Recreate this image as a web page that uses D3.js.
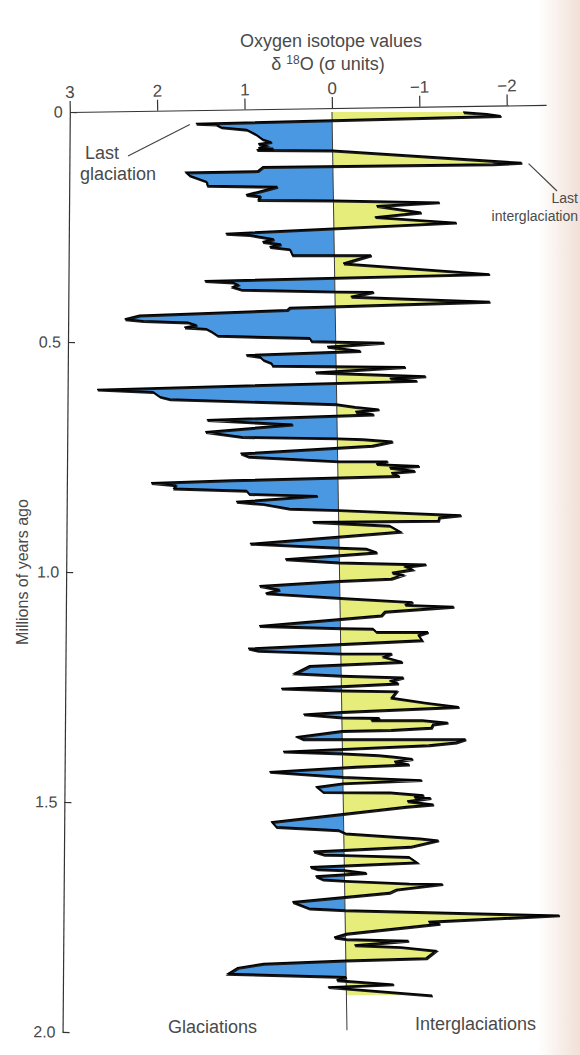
<!DOCTYPE html>
<html><head><meta charset="utf-8">
<script src="https://cdn.jsdelivr.net/npm/d3@7"></script>
<style>
body{margin:0;background:#fff;}
svg{display:block;font-family:"Liberation Sans",Arial,Helvetica,sans-serif;}
</style></head>
<body>
<svg id="chart" width="580" height="1055"></svg>
<script>
// ---- data (millions of years ago, delta-18O in sigma units; positive = glacial) ----
const ages = [0.000,0.004,0.008,0.025,0.027,0.033,0.038,0.049,0.059,0.065,0.069,0.073,0.078,0.079,0.082,0.083,
0.110,0.113,0.119,0.128,0.131,0.138,0.151,0.160,0.162,0.180,0.183,0.191,0.192,0.196,0.204,0.218,0.228,0.240,
0.264,0.267,0.276,0.282,0.287,0.293,0.298,0.311,0.311,0.329,0.352,0.367,0.370,0.375,0.380,0.386,0.390,0.391,
0.401,0.412,0.425,0.430,0.442,0.450,0.454,0.457,0.463,0.468,0.471,0.477,0.486,0.491,0.498,0.499,0.501,0.510,
0.519,0.528,0.532,0.539,0.546,0.551,0.554,0.566,0.574,0.579,0.584,0.603,0.608,0.619,0.624,0.635,0.641,0.646,
0.651,0.657,0.669,0.679,0.695,0.706,0.709,0.711,0.716,0.725,0.742,0.749,0.759,0.759,0.765,0.769,0.773,0.780,
0.784,0.791,0.800,0.806,0.811,0.818,0.823,0.830,0.834,0.847,0.852,0.862,0.865,0.876,0.881,0.888,0.891,0.899,
0.912,0.938,0.947,0.949,0.957,0.972,0.979,0.983,0.988,0.994,1.001,1.006,1.014,1.019,1.030,1.038,1.046,1.056,
1.065,1.071,1.075,1.086,1.094,1.117,1.122,1.123,1.130,1.130,1.137,1.148,1.166,1.171,1.177,1.177,1.184,1.195,
1.204,1.220,1.225,1.229,1.236,1.242,1.248,1.253,1.257,1.259,1.273,1.284,1.293,1.304,1.309,1.316,1.317,1.322,
1.322,1.327,1.331,1.338,1.343,1.345,1.358,1.363,1.363,1.363,1.370,1.376,1.390,1.394,1.398,1.401,1.406,1.412,
1.418,1.423,1.434,1.445,1.452,1.459,1.467,1.478,1.479,1.485,1.489,1.491,1.498,1.505,1.510,1.543,1.554,1.561,
1.568,1.579,1.583,1.597,1.607,1.614,1.615,1.619,1.631,1.641,1.646,1.648,1.654,1.661,1.668,1.671,1.677,1.678,
1.683,1.690,1.697,1.717,1.731,1.735,1.746,1.760,1.764,1.786,1.794,1.798,1.801,1.811,1.815,1.823,1.839,1.844,
1.851,1.860,1.873,1.880,1.887,1.896,1.902,1.920];
const d18O = [-1.50,-1.77,-1.93,1.56,1.33,1.27,0.98,0.87,0.80,0.70,0.85,0.76,0.85,0.68,0.87,0.00,
-2.16,-1.83,0.80,0.86,1.68,1.64,1.45,1.44,0.64,1.00,0.84,0.86,0.00,-1.21,-0.49,-1.00,-0.47,-1.40,
1.24,0.97,0.69,0.82,0.61,0.74,0.51,0.48,-0.42,-0.10,-1.77,1.49,1.17,1.11,1.17,1.07,0.00,-0.44,
-0.18,-1.77,0.52,0.55,2.24,2.41,2.20,1.69,1.59,1.73,1.48,1.42,1.35,0.30,0.28,0.00,-0.55,0.10,
-0.28,1.03,0.87,0.83,0.74,0.73,-0.79,0.24,-1.02,-0.61,-0.92,2.74,2.10,2.02,1.91,0.01,-0.21,-0.48,
-0.21,-0.42,1.49,0.51,1.51,1.09,0.00,-0.29,-0.63,-0.40,1.11,1.02,0.00,-0.57,-0.44,-0.93,-0.59,-0.88,
-0.61,-0.70,1.21,2.14,1.86,1.88,1.05,1.02,0.24,1.17,0.86,0.56,0.00,-1.40,-1.15,-1.14,0.30,-0.58,
-0.70,1.02,0.01,-0.31,-0.43,0.62,0.01,-0.99,-0.76,-0.83,-0.60,-0.72,-0.59,0.00,0.92,0.69,0.85,0.00,
-0.83,-0.74,-1.30,-0.51,-0.47,0.93,0.00,-0.37,-0.41,-1.00,-0.89,-0.93,1.06,0.95,0.00,-0.58,-0.49,-0.70,
0.36,0.53,0.00,-0.71,-0.57,-0.65,0.00,0.69,0.00,-0.63,-0.57,-0.97,-1.34,0.00,0.44,0.00,-0.43,-0.33,
-0.92,-1.21,-1.04,-1.02,-0.56,0.00,0.51,0.45,0.00,-1.41,-1.30,-0.99,0.68,0.00,-0.41,-0.59,-0.80,-0.59,
-0.76,-0.15,0.84,0.00,-0.90,0.00,0.30,0.23,-0.54,-0.92,-0.81,-1.00,-0.73,-1.03,-0.72,0.82,0.77,0.06,
-0.02,-0.87,-1.08,-0.76,0.35,0.23,0.00,-0.74,-0.83,0.39,0.31,0.00,-0.25,0.33,0.25,0.00,-0.74,-1.12,
-0.90,-0.59,-0.51,0.60,0.41,0.00,-2.45,-0.95,-1.08,-0.01,0.13,-0.01,-0.72,-0.10,-0.63,-1.03,-0.92,0.00,
0.94,1.24,1.35,0.00,0.11,-0.54,0.21,-0.98];

const xTicks = [3, 2, 1, 0, -1, -2];
const yTicks = [0, 0.5, 1.0, 1.5, 2.0];
const yTickLabels = ["0", "0.5", "1.0", "1.5", "2.0"];
const titleText = "Oxygen isotope values";
const yAxisTitle = "Millions of years ago";
const leftLabel = "Glaciations";
const rightLabel = "Interglaciations";

// ---- setup ----
const svg = d3.select("#chart");
const W = 580, H = 1055;
const data = ages.map((a, i) => ({age: a, v: d18O[i]}));

const x = d3.scaleLinear().domain([3, -2.45]).range([69.8, 546.1]);
const y = d3.scaleLinear().domain([0, 2]).range([112, 1032]);
const x0 = x(0), yTop = y(0);

const defs = svg.append("defs");
const grad = defs.append("linearGradient").attr("id", "edge").attr("x1", 0).attr("x2", 1).attr("y1", 0).attr("y2", 0);
grad.append("stop").attr("offset", "0%").attr("stop-color", "#ffffff");
grad.append("stop").attr("offset", "100%").attr("stop-color", "#f1e0d7");
defs.append("clipPath").attr("id", "clipL").append("rect").attr("x", 0).attr("y", 0).attr("width", x0).attr("height", H);
defs.append("clipPath").attr("id", "clipR").append("rect").attr("x", x0).attr("y", 0).attr("width", W).attr("height", H);

svg.append("rect").attr("width", W).attr("height", H).attr("fill", "#fff");
svg.append("rect").attr("x", 538).attr("y", 0).attr("width", 42).attr("height", H).attr("fill", "url(#edge)");

const textCol = "#4a4a4a";

// ---- data group (slight skew of the scanned page) ----
const skew = 0.936;
const g = svg.append("g").attr("transform", `translate(${x0},${yTop}) skewX(${skew}) translate(${-x0},${-yTop})`);

const area = d3.area().y(d => y(d.age)).x0(x0).x1(d => x(d.v));
g.append("path").datum(data).attr("d", area).attr("fill", "#4b98e2").attr("clip-path", "url(#clipL)");
g.append("path").datum(data).attr("d", area).attr("fill", "#e6ed7a").attr("clip-path", "url(#clipR)");

// zero line
g.append("line").attr("x1", x0).attr("x2", x0).attr("y1", y(0)).attr("y2", y(1.996))
  .attr("stroke", "#3a3a3a").attr("stroke-width", 1);

const line = d3.line().x(d => x(d.v)).y(d => y(d.age));
g.append("path").datum(data).attr("d", line).attr("fill", "none")
  .attr("stroke", "#1a1a1a").attr("stroke-width", 2).attr("stroke-linejoin", "miter")
  .attr("transform", "translate(0.8,1.2)");
g.append("path").datum(data).attr("d", line).attr("fill", "none")
  .attr("stroke", "#000").attr("stroke-width", 1.5).attr("stroke-linejoin", "miter");

// ---- top axis ----
const topAxis = d3.axisTop(x).tickValues(xTicks).tickSize(11).tickSizeOuter(0).tickPadding(3)
  .tickFormat(d => d < 0 ? "\u2212" + Math.abs(d) : String(d));
const ga = svg.append("g").attr("transform", `rotate(-0.85, ${x(3)}, ${yTop}) translate(0,${yTop})`).call(topAxis);
ga.selectAll("path,line").attr("stroke", "#333").attr("stroke-width", 1.2);
ga.selectAll("text").attr("font-size", 17).attr("fill", textCol).attr("font-family", "Liberation Sans, Arial, sans-serif");

// ---- left axis ----
const leftAxis = d3.axisLeft(y).tickValues(yTicks).tickSizeInner(-7).tickSizeOuter(0).tickPadding(7)
  .tickFormat((d, i) => yTickLabels[i]);
const gl = svg.append("g").attr("transform", `rotate(0.45, ${x(3)}, ${yTop}) translate(${x(3)},0)`).call(leftAxis);
gl.selectAll("path,line").attr("stroke", "#333").attr("stroke-width", 1.2);
gl.selectAll("text").attr("font-size", 16).attr("fill", textCol).attr("font-family", "Liberation Sans, Arial, sans-serif");

// ---- titles ----
svg.append("text").attr("x", 331).attr("y", 47).attr("text-anchor", "middle")
  .attr("font-size", 18).attr("fill", textCol).text(titleText);
const st = svg.append("text").attr("x", 328).attr("y", 70).attr("text-anchor", "middle")
  .attr("font-size", 18).attr("fill", textCol);
st.append("tspan").text("\u03B4 ");
st.append("tspan").attr("dy", -6).attr("font-size", 12).text("18");
st.append("tspan").attr("dy", 6).text("O (\u03C3 units)");

svg.append("text").attr("transform", "translate(28,572) rotate(-90)").attr("text-anchor", "middle")
  .attr("font-size", 16).attr("fill", textCol).text(yAxisTitle);

svg.append("text").attr("x", 168).attr("y", 1033).attr("font-size", 18).attr("fill", textCol).text(leftLabel);
svg.append("text").attr("x", 415).attr("y", 1030).attr("font-size", 18).attr("fill", textCol).text(rightLabel);

// ---- annotations ----
const tipG = data[3];      // last glaciation peak
const tipI = data[16];     // last interglaciation peak
const sk = Math.tan(skew * Math.PI / 180);
const px = d => x(d.v) + sk * (y(d.age) - yTop);
svg.append("text").attr("x", 85).attr("y", 159).attr("font-size", 18).attr("fill", textCol).text("Last");
svg.append("text").attr("x", 80).attr("y", 180).attr("font-size", 18).attr("fill", textCol).text("glaciation");
svg.append("line").attr("x1", 128).attr("y1", 156).attr("x2", px(tipG) - 6).attr("y2", y(tipG.age) + 1)
  .attr("stroke", "#444").attr("stroke-width", 1.2);

svg.append("text").attr("x", 578).attr("y", 203).attr("text-anchor", "end").attr("font-size", 14).attr("fill", textCol).text("Last");
svg.append("text").attr("x", 578).attr("y", 221).attr("text-anchor", "end").attr("font-size", 14).attr("fill", textCol).text("interglaciation");
svg.append("line").attr("x1", px(tipI) + 7).attr("y1", y(tipI.age) + 1).attr("x2", 557).attr("y2", 191)
  .attr("stroke", "#444").attr("stroke-width", 1.2);
</script>
</body></html>
